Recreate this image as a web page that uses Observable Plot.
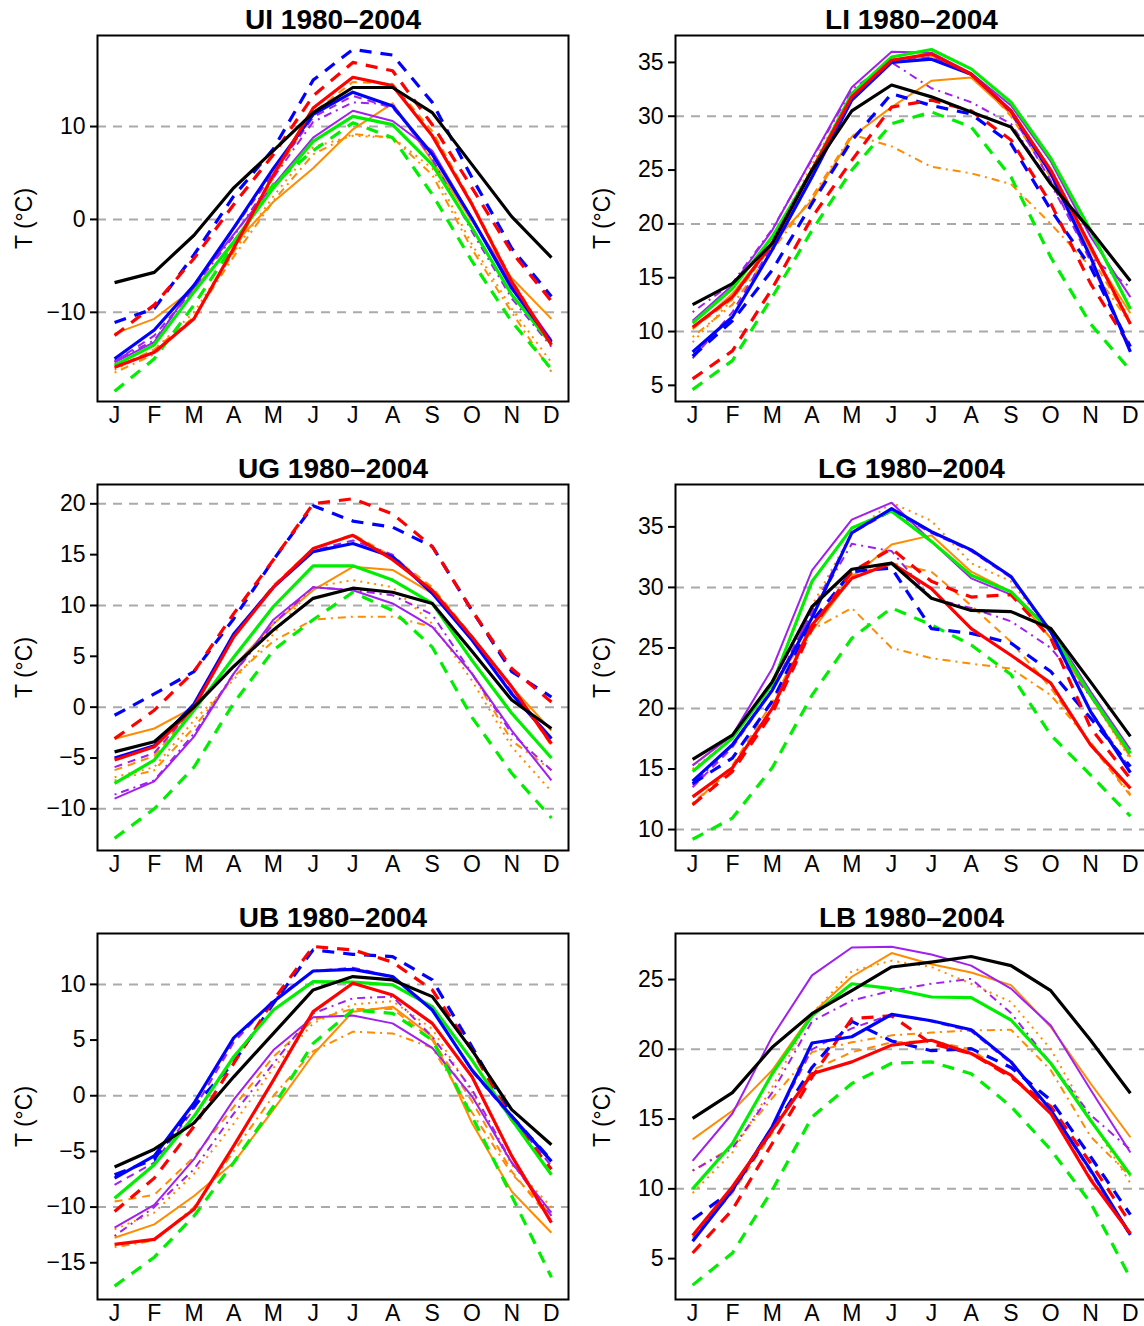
<!DOCTYPE html>
<html>
<head>
<meta charset="utf-8">
<script src="https://cdn.jsdelivr.net/npm/d3@7"></script>
<script src="https://cdn.jsdelivr.net/npm/@observablehq/plot@0.6"></script>
<style>
  html, body { margin: 0; padding: 0; background: #fff; }
  #root { position: relative; width: 1144px; height: 1326px; overflow: hidden; background: #fff; }
</style>
</head>
<body>
<div id="root"></div>
<script>
const months = ["J","F","M","A","M","J","J","A","S","O","N","D"];

const UI = {
  black:        [-6.8, -5.7, -1.7, 3.4, 7.4, 11.5, 14.2, 14.2, 11.5, 5.9, 0.3, -4.1],
  red:          [-15.9, -14.3, -10.7, -3.1, 4.8, 12.0, 15.3, 14.4, 9.0, 1.6, -6.7, -13.5],
  blue:         [-15.0, -11.9, -7.1, -0.9, 5.5, 11.3, 13.7, 12.2, 7.0, 0.1, -7.4, -13.2],
  green:        [-15.7, -13.5, -7.8, -2.4, 3.4, 8.4, 11.1, 10.2, 5.9, -0.9, -8.1, -13.4],
  redDash:      [-12.5, -9.2, -4.2, 1.6, 7.0, 13.3, 16.9, 16.0, 10.2, 3.4, -3.5, -8.8],
  blueDash:     [-11.1, -9.6, -3.8, 2.5, 7.6, 15.0, 18.3, 17.7, 12.6, 4.5, -3.1, -8.3],
  greenDash:    [-18.5, -15.0, -9.2, -2.7, 3.8, 7.4, 10.4, 8.8, 2.7, -4.5, -11.0, -16.1],
  purple:       [-15.4, -13.2, -7.0, -1.6, 3.7, 8.8, 11.7, 10.6, 7.4, 0.1, -7.0, -13.0],
  purpleDash:   [-15.3, -12.5, -7.5, -1.0, 5.0, 11.0, 13.3, 12.0, 7.2, 0.0, -7.2, -13.1],
  purpleDotDash:[-15.2, -13.0, -7.3, -1.8, 4.5, 10.5, 12.6, 12.4, 6.5, -1.3, -8.5, -13.7],
  orange:       [-12.3, -10.7, -7.4, -2.7, 1.9, 5.5, 9.7, 12.5, 6.3, -0.2, -6.3, -10.7],
  orangeDash:   [-16.0, -14.0, -10.5, -3.5, 4.5, 11.5, 14.8, 14.6, 9.5, 1.8, -6.5, -13.3],
  orangeDot:    [-16.2, -14.0, -10.0, -3.5, 2.5, 7.8, 9.0, 8.8, 5.5, -2.7, -9.6, -15.4],
  orangeDotDash:[-16.5, -14.5, -10.5, -4.0, 2.0, 7.0, 9.2, 8.8, 4.8, -3.2, -10.0, -16.4]
};

const LI = {
  black:        [12.5, 14.45, 18.2, 25.0, 30.5, 32.9, 31.8, 30.4, 29.0, 23.7, 19.4, 14.7],
  red:          [10.4, 13.2, 18.2, 25.0, 31.8, 35.2, 35.8, 33.9, 30.5, 25.0, 17.9, 10.7],
  blue:         [8.1, 11.35, 17.6, 24.35, 31.5, 35.0, 35.3, 33.9, 30.5, 24.7, 16.9, 8.1],
  green:        [10.8, 14.0, 18.8, 25.0, 32.1, 35.5, 36.2, 34.4, 31.3, 26.1, 19.4, 12.1],
  redDash:      [5.6, 8.2, 14.0, 20.6, 25.9, 30.85, 31.5, 30.5, 27.8, 21.9, 14.45, 8.6],
  blueDash:     [7.7, 11.0, 15.7, 21.9, 27.75, 32.1, 31.0, 30.2, 27.45, 21.3, 16.0, 8.6],
  greenDash:    [4.6, 7.3, 13.2, 19.4, 25.0, 29.3, 30.4, 29.0, 24.35, 16.9, 10.7, 6.4],
  purple:       [11.0, 14.3, 19.4, 26.1, 32.7, 36.0, 35.9, 34.0, 31.0, 25.8, 18.8, 13.2],
  purpleDash:   [7.5, 11.8, 18.0, 25.0, 32.0, 35.2, 35.5, 34.0, 30.3, 24.0, 16.5, 8.3],
  purpleDotDash:[11.8, 14.5, 19.5, 26.0, 32.5, 35.0, 32.6, 31.3, 29.3, 23.7, 16.9, 14.1],
  orange:       [10.2, 13.5, 18.2, 22.2, 28.1, 30.85, 33.3, 33.6, 30.2, 24.7, 17.5, 11.7],
  orangeDash:   [10.3, 13.0, 18.0, 25.0, 32.0, 35.2, 35.6, 34.0, 30.0, 24.3, 17.0, 10.8],
  orangeDot:    [9.0, 13.0, 18.5, 25.5, 32.0, 35.3, 35.5, 33.8, 30.5, 25.0, 17.8, 11.0],
  orangeDotDash:[9.5, 12.5, 17.5, 22.5, 28.3, 27.2, 25.3, 24.7, 23.7, 20.0, 16.0, 10.7]
};

const UG = {
  black:        [-4.4, -3.4, 0.0, 4.0, 7.6, 10.7, 11.7, 11.3, 10.2, 5.5, 0.7, -2.1],
  red:          [-5.2, -3.9, 0.0, 6.9, 11.8, 15.6, 16.9, 14.5, 11.5, 6.9, 2.0, -3.6],
  blue:         [-5.0, -3.8, 0.3, 7.2, 11.8, 15.3, 16.1, 14.8, 11.2, 6.6, 1.3, -3.1],
  green:        [-7.5, -5.2, -0.3, 4.9, 9.9, 13.9, 13.9, 12.5, 10.2, 4.6, -0.6, -5.0],
  redDash:      [-3.1, -0.3, 3.5, 9.2, 14.5, 20.0, 20.5, 19.0, 15.8, 9.5, 3.8, 0.5],
  blueDash:     [-0.8, 1.3, 3.5, 8.7, 14.5, 19.8, 18.3, 17.7, 15.8, 9.5, 3.5, 1.0],
  greenDash:    [-12.9, -10.0, -5.9, 0.4, 5.6, 8.6, 11.3, 9.5, 5.9, -1.0, -6.5, -10.9],
  purple:       [-9.0, -7.3, -2.9, 3.3, 8.6, 11.8, 11.5, 10.2, 7.9, 3.3, -2.3, -7.2],
  purpleDash:   [-5.9, -4.5, 0.0, 7.0, 11.8, 15.4, 16.4, 15.0, 11.3, 6.6, 1.5, -3.3],
  purpleDotDash:[-8.6, -7.2, -2.6, 3.3, 8.2, 11.8, 11.5, 11.0, 9.1, 3.3, -2.6, -6.2],
  orange:       [-3.1, -2.1, 0.0, 4.0, 8.2, 11.5, 13.8, 13.5, 11.2, 6.9, 2.0, -2.3],
  orangeDash:   [-6.2, -4.8, 0.0, 7.0, 12.0, 15.6, 17.0, 14.8, 11.8, 7.0, 2.0, -3.8],
  orangeDot:    [-6.9, -5.9, -1.3, 2.7, 7.2, 11.8, 12.5, 11.8, 8.2, 2.6, -3.9, -8.3],
  orangeDotDash:[-7.2, -6.2, -2.0, 3.0, 6.5, 8.6, 8.9, 8.9, 7.9, 3.3, -3.3, -6.2]
};

const LG = {
  black:        [15.8, 17.8, 22.2, 28.4, 31.5, 32.0, 29.1, 28.1, 28.0, 26.6, 22.2, 17.7],
  red:          [12.7, 15.1, 20.0, 26.9, 30.75, 32.0, 29.9, 26.6, 24.4, 22.1, 17.0, 13.4],
  blue:         [14.0, 17.0, 21.5, 27.5, 34.5, 36.5, 34.6, 33.1, 30.9, 26.35, 19.75, 14.7],
  green:        [14.8, 17.55, 22.0, 30.5, 34.9, 36.3, 33.8, 31.0, 29.65, 26.35, 21.1, 16.3],
  redDash:      [12.05, 14.8, 19.6, 26.6, 31.3, 33.2, 30.5, 29.2, 29.4, 25.8, 18.4, 14.2],
  blueDash:     [13.8, 15.9, 20.6, 27.2, 31.3, 31.6, 26.6, 26.2, 25.4, 23.05, 19.2, 15.2],
  greenDash:    [9.2, 10.95, 15.1, 21.1, 25.8, 28.3, 26.9, 25.25, 22.8, 17.8, 14.5, 11.1],
  purple:       [15.3, 17.8, 23.3, 31.4, 35.6, 37.0, 33.8, 30.75, 29.4, 26.6, 21.4, 16.6],
  purpleDash:   [13.5, 16.8, 21.5, 28.0, 34.5, 36.3, 34.5, 33.0, 30.8, 26.3, 19.8, 15.0],
  purpleDotDash:[13.7, 17.0, 21.6, 28.0, 33.6, 33.0, 29.1, 28.3, 27.2, 25.0, 21.0, 16.2],
  orange:       [15.3, 17.8, 22.0, 26.4, 30.8, 33.55, 34.3, 31.3, 29.65, 25.8, 21.0, 16.0],
  orangeDash:   [12.0, 15.3, 20.5, 27.0, 31.0, 32.0, 31.3, 28.5, 25.5, 21.7, 17.0, 12.8],
  orangeDot:    [15.0, 17.5, 22.3, 28.5, 34.5, 37.0, 35.5, 32.0, 30.5, 26.3, 21.0, 15.8],
  orangeDotDash:[12.2, 15.0, 20.0, 26.5, 28.3, 25.0, 24.15, 23.7, 23.3, 21.1, 17.2, 12.9]
};

const UB = {
  black:        [-6.4, -4.8, -2.45, 1.7, 5.6, 9.5, 10.7, 10.4, 8.9, 4.1, -1.25, -4.4],
  red:          [-13.35, -12.9, -10.2, -4.5, 1.4, 7.55, 10.1, 9.05, 6.5, 1.7, -5.4, -11.4],
  blue:         [-7.4, -5.4, -0.65, 5.2, 8.45, 11.2, 11.35, 10.7, 7.7, 2.3, -1.85, -5.9],
  green:        [-9.2, -6.2, -1.85, 3.5, 7.7, 10.25, 10.2, 9.95, 8.0, 3.2, -2.15, -7.1],
  redDash:      [-10.4, -7.4, -2.75, 2.9, 8.6, 13.4, 13.1, 12.0, 9.5, 4.1, -2.15, -6.6],
  blueDash:     [-7.1, -5.7, -0.95, 3.0, 8.3, 13.1, 12.7, 12.5, 10.4, 4.4, -1.85, -5.8],
  greenDash:    [-17.1, -14.5, -10.8, -6.0, -0.95, 4.7, 7.7, 7.4, 5.0, -1.85, -9.0, -16.3],
  purple:       [-11.85, -9.8, -5.7, -0.35, 4.1, 7.05, 7.2, 6.5, 4.3, -0.05, -6.0, -10.5],
  purpleDash:   [-8.0, -6.0, -1.2, 4.8, 8.6, 11.2, 11.5, 10.7, 7.8, 2.2, -2.0, -6.3],
  purpleDotDash:[-12.6, -10.0, -6.6, -1.6, 2.9, 7.4, 8.75, 8.9, 5.3, 0.55, -6.0, -10.8],
  orange:       [-12.75, -11.55, -9.0, -6.0, -1.25, 3.7, 7.55, 8.0, 5.3, -2.45, -8.6, -12.3],
  orangeDash:   [-9.5, -8.9, -5.5, -1.0, 3.5, 6.8, 7.8, 7.8, 5.0, -0.5, -6.8, -11.2],
  orangeDot:    [-12.0, -10.5, -7.0, -2.5, 2.5, 6.5, 8.2, 8.5, 6.0, 0.3, -6.2, -10.0],
  orangeDotDash:[-13.6, -13.0, -10.0, -5.0, 0.0, 4.0, 5.75, 5.6, 4.3, -1.5, -7.0, -10.7]
};

const LB = {
  black:        [15.05, 16.9, 20.15, 22.55, 24.2, 25.9, 26.25, 26.65, 26.0, 24.2, 20.65, 16.85],
  red:          [6.65, 10.15, 14.2, 18.25, 19.1, 20.3, 20.65, 19.7, 18.15, 15.4, 10.65, 6.8],
  blue:         [6.25, 9.9, 14.45, 20.45, 20.9, 22.5, 22.05, 21.4, 19.1, 15.65, 11.35, 6.7],
  green:        [10.0, 13.25, 18.25, 22.4, 24.7, 24.35, 23.75, 23.7, 22.1, 19.0, 14.9, 11.0],
  redDash:      [5.4, 8.5, 13.25, 18.0, 22.2, 22.4, 20.4, 19.7, 18.0, 15.9, 11.85, 7.55],
  blueDash:     [7.8, 9.9, 14.2, 18.7, 22.0, 20.6, 19.9, 20.05, 18.7, 16.35, 12.3, 8.15],
  greenDash:    [3.1, 5.4, 9.9, 15.15, 17.55, 19.0, 19.1, 18.25, 15.9, 12.8, 9.0, 3.6],
  purple:       [12.0, 15.4, 20.9, 25.3, 27.3, 27.35, 26.8, 26.0, 24.35, 21.7, 17.1, 12.6],
  purpleDash:   [6.3, 10.0, 14.5, 20.0, 21.5, 22.5, 22.0, 21.3, 19.0, 15.7, 11.2, 6.6],
  purpleDotDash:[11.3, 12.9, 16.9, 22.0, 23.5, 24.2, 24.7, 25.05, 22.6, 19.0, 15.3, 12.8],
  orange:       [13.55, 15.6, 18.5, 22.55, 25.2, 26.9, 26.1, 25.5, 24.6, 21.6, 17.55, 13.7],
  orangeDash:   [6.5, 9.7, 14.0, 18.5, 19.8, 20.5, 20.6, 20.0, 18.0, 15.5, 10.8, 6.9],
  orangeDot:    [9.7, 12.6, 17.3, 22.55, 25.6, 26.35, 25.9, 24.7, 23.4, 20.0, 15.0, 10.4],
  orangeDotDash:[11.3, 13.0, 16.5, 19.8, 20.5, 21.0, 21.2, 21.35, 21.4, 18.5, 13.75, 10.9]
};

const panelNames = ["UI", "LI", "UG", "LG", "UB", "LB"];
const panelData = [UI, LI, UG, LG, UB, LB];
const panelTitles = ["UI 1980–2004", "LI 1980–2004", "UG 1980–2004", "LG 1980–2004", "UB 1980–2004", "LB 1980–2004"];
const yTicks = [
  [-10, 0, 10],
  [5, 10, 15, 20, 25, 30, 35],
  [-10, -5, 0, 5, 10, 15, 20],
  [10, 15, 20, 25, 30, 35],
  [-15, -10, -5, 0, 5, 10],
  [5, 10, 15, 20, 25]
];
const gridLines = [
  [-10, 0, 10],
  [10, 20, 30],
  [-10, 0, 10, 20],
  [10, 20, 30],
  [-10, 0, 10],
  [10, 20]
];
const yDomains = [
  [-19.6, 19.8],
  [3.5, 37.5],
  [-14.1, 21.9],
  [8.27, 38.5],
  [-18.3, 14.57],
  [2.07, 28.3]
];

// drawing order & styles
const drawOrder = ["orangeDotDash","orangeDot","orangeDash","orange","purpleDotDash","purpleDash","purple",
                   "greenDash","blueDash","redDash","green","blue","red","black"];
const styles = {
  black:        {stroke: "#000000", w: 3.2, dash: null},
  red:          {stroke: "#ff0000", w: 3.2, dash: null},
  blue:         {stroke: "#0000ff", w: 3.2, dash: null},
  green:        {stroke: "#00ee00", w: 3.2, dash: null},
  redDash:      {stroke: "#ff0000", w: 3.2, dash: "12,9"},
  blueDash:     {stroke: "#0000ff", w: 3.2, dash: "12,9"},
  greenDash:    {stroke: "#00ee00", w: 3.2, dash: "12,9"},
  purple:       {stroke: "#a020f0", w: 2, dash: null},
  purpleDash:   {stroke: "#a020f0", w: 2, dash: "8,6"},
  purpleDotDash:{stroke: "#a020f0", w: 2, dash: "2,5,8,5"},
  orange:       {stroke: "#ff8c00", w: 2, dash: null},
  orangeDash:   {stroke: "#ff8c00", w: 2, dash: "8,6"},
  orangeDot:    {stroke: "#ff8c00", w: 2, dash: "2,5"},
  orangeDotDash:{stroke: "#ff8c00", w: 2, dash: "2,5,8,5"}
};

const root = document.getElementById("root");
const FONT = "'Liberation Sans', Arial, Helvetica, sans-serif";

panelNames.forEach((name, p) => {
  const col = p % 2, row = Math.floor(p / 2);
  const frameTops = [35, 484, 933];
  const frameH = 366;
  const mTop = 35, mBottom = 40;
  const mLeft = col === 0 ? 97 : 100;
  const frameW = col === 0 ? 471 : 472;
  const mRight = 4;
  const svgLeft = col === 0 ? 0 : 575;
  const svgTop = frameTops[row] - mTop;
  const data = panelData[p];

  const marks = [
    Plot.ruleY(gridLines[p], {stroke: "#aaaaaa", strokeWidth: 2, strokeDasharray: "9,7"})
  ];
  for (const key of drawOrder) {
    const s = styles[key];
    const rows = data[key].map((v, i) => ({m: i, t: v}));
    const opts = {x: "m", y: "t", stroke: s.stroke, strokeWidth: s.w, strokeLinejoin: "round", strokeLinecap: "butt"};
    if (s.dash) opts.strokeDasharray = s.dash;
    marks.push(Plot.line(rows, opts));
  }
  marks.push(
    Plot.frame({stroke: "#000", strokeWidth: 2}),
    Plot.axisY({ticks: yTicks[p], tickSize: 7, tickPadding: 5, label: null, strokeWidth: 2}),
    Plot.axisX({ticks: d3.range(12), tickFormat: i => months[i], tickSize: 0, tickPadding: 5, label: null}),
    Plot.text([panelTitles[p]], {frameAnchor: "top", lineAnchor: "middle", dy: -15, fontSize: 28, fontWeight: "bold", fill: "#000"}),
    Plot.text(["T (°C)"], {frameAnchor: "left", textAnchor: "middle", lineAnchor: "middle", dx: -73, rotate: -90, fontSize: 23, fill: "#000"})
  );

  const svg = Plot.plot({
    width: mLeft + frameW + mRight,
    height: mTop + frameH + mBottom,
    marginLeft: mLeft,
    marginRight: mRight,
    marginTop: mTop,
    marginBottom: mBottom,
    x: {domain: [-0.43, 11.43], axis: null},
    y: {domain: yDomains[p], axis: null},
    style: {fontFamily: FONT, fontSize: "23px", color: "#000", background: "transparent", overflow: "visible"},
    marks
  });
  svg.style.position = "absolute";
  svg.style.left = svgLeft + "px";
  svg.style.top = svgTop + "px";
  root.appendChild(svg);
});
</script>
</body>
</html>
